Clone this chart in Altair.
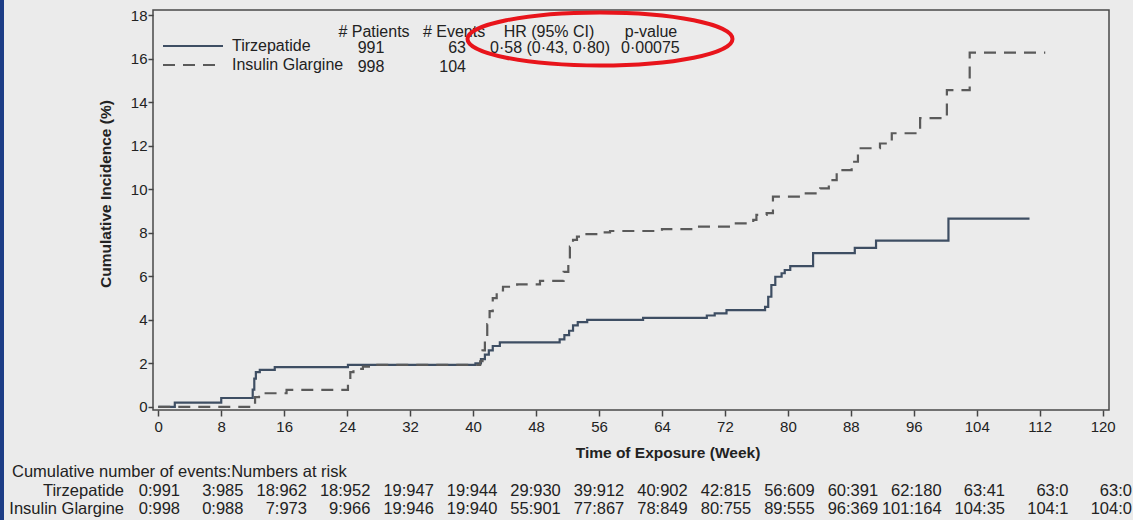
import altair as alt
import pandas as pd

# ---------------- data ----------------
tirz_weeks = [0, 2.1, 8.0, 12.0, 12.2, 12.4, 12.9, 14.8, 24.1, 40.3, 41.0, 41.5, 42.0, 42.5, 43.4,
              51.0, 51.6, 52.2, 52.7, 53.3, 54.5, 61.6, 69.7, 70.7, 72.2, 77.1, 77.5, 77.9, 78.4,
              79.2, 79.6, 80.3, 83.2, 88.5, 91.2, 100.4, 110.7]
tirz_inc = [0, 0.2, 0.41, 0.8, 1.3, 1.6, 1.7, 1.83, 1.93, 2.0, 2.2, 2.4, 2.6, 2.8, 2.97,
            3.1, 3.3, 3.5, 3.75, 3.9, 4.0, 4.09, 4.2, 4.3, 4.45, 4.6, 5.06, 5.6, 5.98,
            6.14, 6.29, 6.47, 7.06, 7.31, 7.64, 8.65, 8.65]

glar_weeks = [0, 11.9, 12.3, 12.8, 16.3, 24.1, 24.4, 24.8, 26.0, 27.5, 40.9, 41.2, 41.5, 41.8,
              42.1, 42.5, 43.0, 43.8, 45.6, 48.5, 51.5, 52.1, 52.3, 52.7, 53.2, 54.0, 55.9,
              57.4, 64.0, 68.0, 72.9, 75.6, 76.0, 77.3, 78.1, 81.8, 84.1, 85.2, 86.2, 88.1,
              88.9, 91.7, 93.2, 96.8, 100.2, 103.1, 112.7]
glar_inc = [0, 0.2, 0.45, 0.63, 0.78, 1.2, 1.6, 1.75, 1.85, 1.93, 2.1, 2.6, 3.2, 3.8,
            4.4, 5.0, 5.35, 5.52, 5.63, 5.79, 6.2, 6.67, 7.36, 7.67, 7.82, 7.94, 8.02,
            8.08, 8.17, 8.28, 8.43, 8.59, 8.82, 8.9, 9.66, 9.81, 10.04, 10.42, 10.88, 11.26,
            11.88, 12.1, 12.57, 13.26, 14.55, 16.27, 16.27]

arms = ["Tirzepatide", "Insulin Glargine"]
patients = ["991", "998"]
events = ["63", "104"]
hr_text = "0·58 (0·43, 0·80)"
p_text = "0·00075"

x_ticks = list(range(0, 121, 8))
y_ticks = list(range(0, 19, 2))

risk_tirz = ["0:991", "3:985", "18:962", "18:952", "19:947", "19:944", "29:930", "39:912",
             "40:902", "42:815", "56:609", "60:391", "62:180", "63:41", "63:0", "63:0"]
risk_glar = ["0:998", "0:988", "7:973", "9:966", "19:946", "19:940", "55:901", "77:867",
             "78:849", "80:755", "89:555", "96:369", "101:164", "104:35", "104:1", "104:0"]

# ---------------- build ----------------
FONT = "Liberation Sans"
TXT = "#222222"
W, H = 956, 400
PADL, PADT = 153, 10
BG = "#ebebeb"
LINE_COLORS = ["#3e4e63", "#5a5a5a"]
LINE_DASH = [[1, 0], [12, 8]]

df = pd.concat([
    pd.DataFrame({"week": tirz_weeks, "inc": tirz_inc, "arm": arms[0]}),
    pd.DataFrame({"week": glar_weeks, "inc": glar_inc, "arm": arms[1]}),
])

xscale = alt.Scale(domain=[-0.67, 120.8], nice=False, zero=False)
yscale = alt.Scale(domain=[-0.14, 18.23], nice=False, zero=False)

lines = alt.Chart(df).mark_line(interpolate="step-after", strokeWidth=2.2).encode(
    x=alt.X("week:Q", scale=xscale,
            axis=alt.Axis(values=x_ticks, title=None, domain=False, grid=False,
                          tickSize=6, tickWidth=1.5, tickColor="#444",
                          labelFontSize=15, labelColor=TXT, labelFont=FONT,
                          labelPadding=3, labelFlush=False)),
    y=alt.Y("inc:Q", scale=yscale,
            axis=alt.Axis(values=y_ticks, title=None, domain=False, grid=False,
                          tickSize=5, tickWidth=1.5, tickColor="#444",
                          labelFontSize=15, labelColor=TXT, labelFont=FONT,
                          labelPadding=1, labelFlush=False)),
    color=alt.Color("arm:N", scale=alt.Scale(domain=arms, range=LINE_COLORS), legend=None),
    strokeDash=alt.StrokeDash("arm:N", scale=alt.Scale(domain=arms, range=LINE_DASH), legend=None),
    detail="arm:N",
)

def txt(rows, **kw):
    d = pd.DataFrame(rows)
    base = dict(font=FONT, fontSize=16, color=TXT)
    base.update(kw)
    return alt.Chart(d).mark_text(**base).encode(
        x=alt.X("px:Q", scale=None), y=alt.Y("py:Q", scale=None), text="t:N")

# legend samples
leg_lines = alt.Chart(pd.DataFrame({"arm": arms, "x1": [163 - PADL] * 2, "x2": [223 - PADL] * 2,
                                    "py": [46 - PADT, 65 - PADT]})).mark_rule(strokeWidth=2.2).encode(
    x=alt.X("x1:Q", scale=None), x2="x2:Q", y=alt.Y("py:Q", scale=None),
    color=alt.Color("arm:N", scale=alt.Scale(domain=arms, range=LINE_COLORS), legend=None),
    strokeDash=alt.StrokeDash("arm:N", scale=alt.Scale(domain=arms, range=LINE_DASH), legend=None),
)

hdr = txt({"t": ["# Patients", "# Events", "HR (95% CI)", "p-value"],
           "px": [374 - PADL, 454 - PADL, 549 - PADL, 651 - PADL],
           "py": [32 - PADT] * 4}, align="center")
names = txt({"t": arms, "px": [232 - PADL] * 2, "py": [46 - PADT, 65 - PADT]}, align="left")
pats = txt({"t": patients, "px": [371 - PADL] * 2, "py": [48 - PADT, 67 - PADT]}, align="center")
evs = txt({"t": events, "px": [466 - PADL] * 2, "py": [48 - PADT, 67 - PADT]}, align="right")
hrp = txt({"t": [hr_text, p_text], "px": [490 - PADL, 621 - PADL], "py": [48 - PADT] * 2}, align="left")

# red ellipse annotation
ell_path = ("M-1,0C-1,-0.11,-0.552,-0.2,0,-0.2C0.552,-0.2,1,-0.11,1,0"
            "C1,0.11,0.552,0.2,0,0.2C-0.552,0.2,-1,0.11,-1,0Z")
ellipse = alt.Chart(pd.DataFrame({"px": [600 - PADL], "py": [39 - PADT]})).mark_point(
    shape=ell_path, size=265 * 265, filled=False, stroke="#e8141b", strokeWidth=4, opacity=1
).encode(x=alt.X("px:Q", scale=None), y=alt.Y("py:Q", scale=None))

# axis titles
xtitle = txt({"t": ["Time of Exposure (Week)"], "px": [668 - PADL], "py": [453 - PADT]},
             align="center", fontWeight="bold", fontSize=15.5)
ytitle = txt({"t": ["Cumulative Incidence (%)"], "px": [106 - PADL], "py": [194 - PADT]},
             align="center", fontWeight="bold", fontSize=15.5, angle=270)

# at-risk table
tab_head = txt({"t": ["Cumulative number of events:Numbers at risk"], "px": [12 - PADL],
                "py": [472 - PADT]}, align="left", fontSize=16.5)
tab_names = txt({"t": arms, "px": [124 - PADL] * 2, "py": [491 - PADT, 509 - PADT]},
                align="right", fontSize=16.5)
ncol = len(risk_tirz)
tab_df = pd.DataFrame({"col": list(range(ncol)) * 2,
                       "t": risk_tirz + risk_glar,
                       "py": [491 - PADT] * ncol + [509 - PADT] * ncol})
tab_vals = alt.Chart(tab_df).mark_text(font=FONT, fontSize=16.5, color=TXT, align="right").encode(
    x=alt.X("col:Q", scale=alt.Scale(domain=[-0.4254, 14.638], nice=False, zero=False), axis=None),
    y=alt.Y("py:Q", scale=None), text="t:N")

# thin blue strip at the left edge
strip = alt.Chart(pd.DataFrame({"a": [0]})).mark_rect(color="#1d3d86").encode(
    x=alt.value(-PADL), x2=alt.value(-PADL + 4), y=alt.value(-PADT), y2=alt.value(520 - PADT))

chart = alt.layer(
    lines, leg_lines, hdr, names, pats, evs, hrp, ellipse, xtitle, ytitle,
    tab_head, tab_names, tab_vals, strip
).resolve_scale(x="independent").properties(
    width=W, height=H,
    autosize=alt.AutoSizeParams(type="none"),
    padding={"left": PADL, "top": PADT, "right": 1133 - PADL - W, "bottom": 520 - PADT - H},
    background=BG,
).configure_view(stroke="#4a4a4a", strokeWidth=1.5, fill=BG)

chart.save("out.html", embed_options={"renderer": "svg", "actions": False})
